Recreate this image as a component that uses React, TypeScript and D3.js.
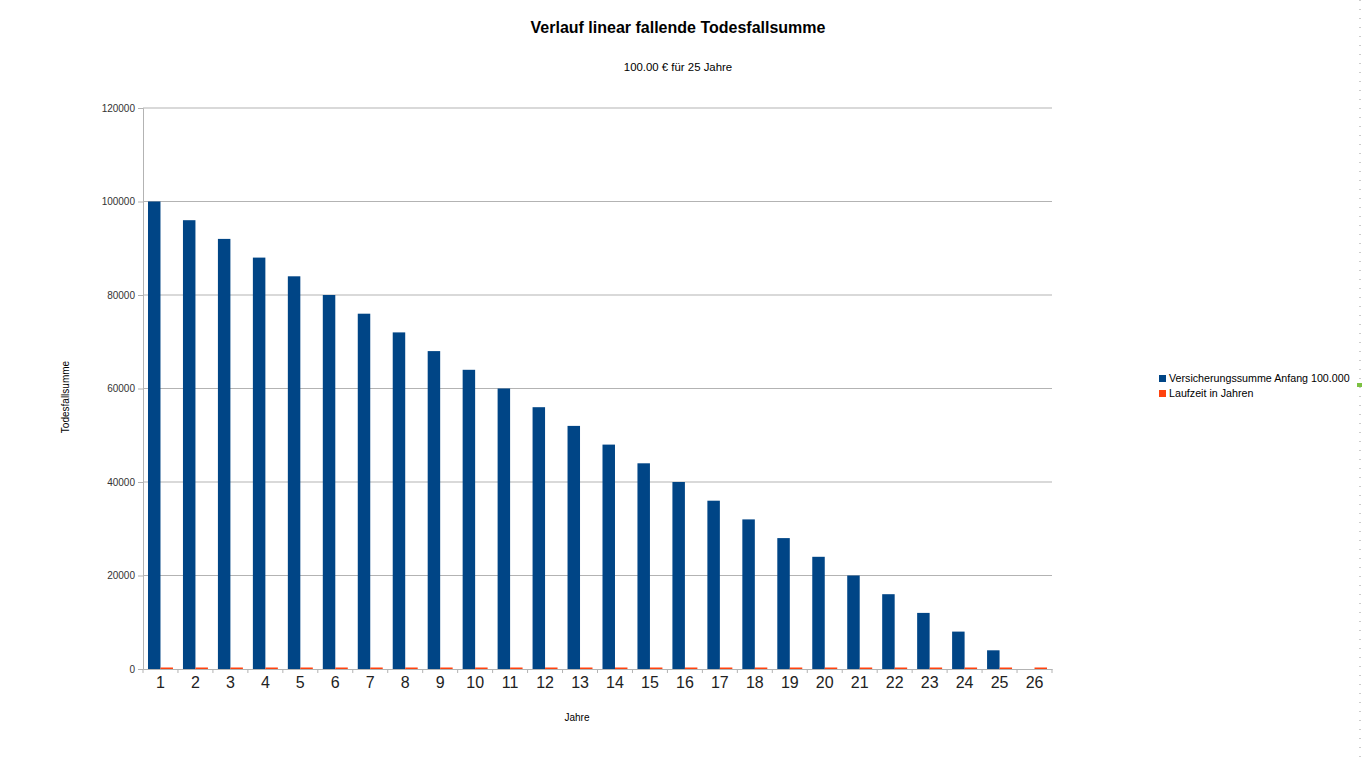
import { useEffect, useRef } from 'react';
import * as d3 from 'd3';

const years = d3.range(1, 27).map(String);
const sumValues = [
  100000, 96000, 92000, 88000, 84000, 80000, 76000, 72000, 68000, 64000, 60000, 56000, 52000,
  48000, 44000, 40000, 36000, 32000, 28000, 24000, 20000, 16000, 12000, 8000, 4000, 0,
];
const termValues = [1, 2, 3, 4, 5, 6, 7, 8, 9, 10, 11, 12, 13, 14, 15, 16, 17, 18, 19, 20, 21, 22, 23, 24, 25, 26];
const yTicks = [0, 20000, 40000, 60000, 80000, 100000, 120000];
const seriesNames = ['Versicherungssumme Anfang 100.000', 'Laufzeit in Jahren'];
const seriesColors = ['#004586', '#ff420e'];

const W = 1362;
const H = 759;

export default function App() {
  const svgRef = useRef<SVGSVGElement>(null);

  useEffect(() => {
    if (!svgRef.current) return;
    const svg = d3.select(svgRef.current);
    svg.selectAll('*').remove();

    const font = '"Liberation Sans", Arial, sans-serif';
    const margin = { top: 108, left: 143, right: 1052, bottom: 669 };

    svg.append('rect').attr('width', W).attr('height', H).attr('fill', '#ffffff');

    // Title
    svg.append('text')
      .attr('x', 678).attr('y', 33)
      .attr('text-anchor', 'middle')
      .attr('font-family', font).attr('font-size', '16px').attr('font-weight', 'bold')
      .attr('fill', '#000')
      .text('Verlauf linear fallende Todesfallsumme');

    svg.append('text')
      .attr('x', 678).attr('y', 71)
      .attr('text-anchor', 'middle')
      .attr('font-family', font).attr('font-size', '11.4px')
      .attr('fill', '#000')
      .text('100.00 € für 25 Jahre');

    const x = d3.scaleBand().domain(years).range([margin.left, margin.right]).paddingInner(0).paddingOuter(0);
    const y = d3.scaleLinear().domain([0, 120000]).range([margin.bottom, margin.top]);

    const inner = d3.scaleBand().domain(['0', '1']).range([0, x.bandwidth()]).paddingInner(0).paddingOuter(0.4);

    // Grid
    svg.append('g').selectAll('line').data(yTicks.filter(d => d > 0)).join('line')
      .attr('x1', margin.left).attr('x2', margin.right)
      .attr('y1', d => y(d)).attr('y2', d => y(d))
      .attr('stroke', '#b3b3b3').attr('stroke-width', 1);

    // Bars
    const groups = svg.append('g').selectAll('g').data(years).join('g')
      .attr('transform', d => `translate(${x(d)},0)`);

    groups.append('rect')
      .attr('x', inner('0')!)
      .attr('width', inner.bandwidth())
      .attr('y', (_, i) => y(sumValues[i]))
      .attr('height', (_, i) => y(0) - y(sumValues[i]))
      .attr('fill', seriesColors[0]);

    groups.append('rect')
      .attr('x', inner('1')!)
      .attr('width', inner.bandwidth())
      .attr('y', (_, i) => Math.min(y(termValues[i]), y(0) - 1.5))
      .attr('height', (_, i) => Math.max(y(0) - y(termValues[i]), 1.5))
      .attr('fill', seriesColors[1]);

    // Y axis
    const yAxis = svg.append('g')
      .attr('transform', `translate(${margin.left},0)`)
      .call(d3.axisLeft(y).tickValues(yTicks).tickSize(5).tickPadding(3).tickFormat(d3.format('d')));
    yAxis.select('.domain').attr('stroke', '#b3b3b3');
    yAxis.selectAll('.tick line').attr('stroke', '#b3b3b3');
    yAxis.selectAll('text').attr('font-family', font).attr('font-size', '10px').attr('fill', '#333');

    // X axis
    const xAxis = svg.append('g')
      .attr('transform', `translate(0,${margin.bottom})`)
      .call(d3.axisBottom(x).tickSize(0).tickPadding(8));
    xAxis.select('.domain').attr('stroke', '#b3b3b3');
    xAxis.selectAll('text').attr('font-family', font).attr('font-size', '16px').attr('fill', '#222');
    xAxis.append('g').selectAll('line').data(years.concat(['end'])).join('line')
      .attr('x1', (d, i) => margin.left + i * x.bandwidth())
      .attr('x2', (d, i) => margin.left + i * x.bandwidth())
      .attr('y1', 0).attr('y2', 4)
      .attr('stroke', '#b3b3b3');

    // Axis titles
    svg.append('text')
      .attr('x', 577).attr('y', 721)
      .attr('text-anchor', 'middle')
      .attr('font-family', font).attr('font-size', '10px').attr('fill', '#000')
      .text('Jahre');

    svg.append('text')
      .attr('transform', 'translate(69,397) rotate(-90)')
      .attr('text-anchor', 'middle')
      .attr('font-family', font).attr('font-size', '10px').attr('fill', '#000')
      .text('Todesfallsumme');

    // Legend
    const legend = svg.append('g').attr('transform', 'translate(1159,373)');
    seriesNames.forEach((name, i) => {
      const row = legend.append('g').attr('transform', `translate(0,${i * 15})`);
      row.append('rect').attr('width', 7).attr('height', 7).attr('y', 2).attr('fill', seriesColors[i]);
      row.append('text')
        .attr('x', 10).attr('y', 9)
        .attr('font-family', font).attr('font-size', '10.7px').attr('fill', '#000')
        .text(name);
    });

    // Page edge marker
    svg.append('line')
      .attr('x1', 1360).attr('x2', 1360).attr('y1', 0).attr('y2', H)
      .attr('stroke', '#9a9a9a').attr('stroke-width', 1).attr('stroke-dasharray', '1,8');
    svg.append('rect')
      .attr('x', 1357).attr('y', 383).attr('width', 5).attr('height', 4)
      .attr('fill', '#7cc142');
  }, []);

  return (
    <svg
      ref={svgRef}
      width={W}
      height={H}
      style={{ position: 'absolute', left: 0, top: 0, display: 'block' }}
    />
  );
}
